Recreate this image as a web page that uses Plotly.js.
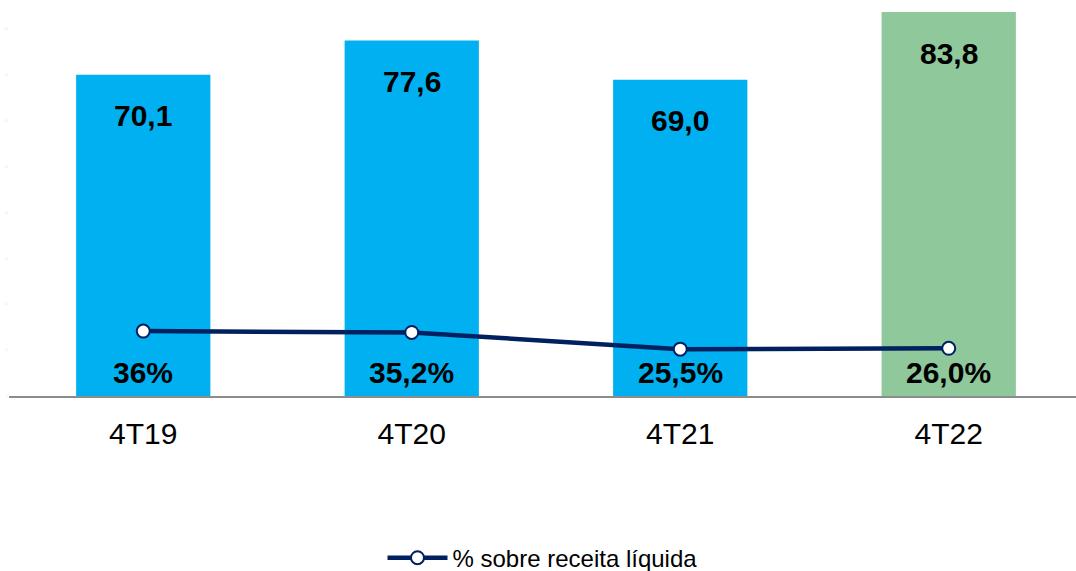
<!DOCTYPE html>
<html>
<head>
<meta charset="utf-8">
<script src="https://cdn.plot.ly/plotly-3.0.1.min.js"></script>
<style>html,body{margin:0;padding:0;background:#fff;}#chart{width:1076px;height:571px;}</style>
</head>
<body>
<div id="chart"></div>
<script>
const categories = ["4T19", "4T20", "4T21", "4T22"];
const barValues = [70.1, 77.6, 69.0, 83.8];
const barLabels = ["70,1", "77,6", "69,0", "83,8"];
const pctValues = [36.0, 35.2, 25.5, 26.0];
const pctLabels = ["36%", "35,2%", "25,5%", "26,0%"];
const barColors = ["#00B0F0", "#00B0F0", "#00B0F0", "#8FC89A"];
const seriesName = "% sobre receita líquida";
const yTicks = [0, 10, 20, 30, 40, 50, 60, 70, 80];

const font = "Liberation Sans, Arial, sans-serif";

const bars = {
  type: "bar",
  x: categories,
  y: barValues,
  marker: {color: barColors},
  width: 0.5,
  showlegend: false,
  hoverinfo: "skip"
};

const line = {
  type: "scatter",
  mode: "lines+markers",
  x: categories,
  y: pctValues,
  yaxis: "y2",
  name: seriesName,
  line: {color: "#002060", width: 4.5},
  marker: {size: 13, color: "#ffffff", line: {color: "#002060", width: 2}},
  hoverinfo: "skip"
};

const annotations = [];
categories.forEach((c, i) => {
  annotations.push({
    x: c, y: barValues[i], xref: "x", yref: "y",
    text: "<b>" + barLabels[i] + "</b>",
    showarrow: false, yanchor: "middle", yshift: -41,
    font: {family: font, size: 30, color: "#000"}
  });
  annotations.push({
    x: c, y: 0, xref: "x", yref: "y",
    text: "<b>" + pctLabels[i] + "</b>",
    showarrow: false, yanchor: "middle", yshift: 24,
    font: {family: font, size: 30, color: "#000"}
  });
});

const layout = {
  width: 1076, height: 571,
  margin: {l: 9, r: 0, t: 10, b: 175, autoexpand: false},
  paper_bgcolor: "#fff", plot_bgcolor: "#fff",
  font: {family: font, color: "#000"},
  xaxis: {
    type: "category",
    range: [-0.5, 3.474],
    showline: true, linecolor: "#8c8c8c", linewidth: 2,
    ticks: "", showgrid: false, zeroline: false,
    tickfont: {family: font, size: 30, color: "#000"},
    ticklabelstandoff: 10,
    automargin: false, fixedrange: true
  },
  yaxis: {
    range: [0, 84.24],
    showgrid: false, zeroline: false, showline: false,
    tickvals: yTicks, ticktext: yTicks.map(String),
    tickfont: {family: font, size: 3, color: "#ebebeb"},
    ticks: "", automargin: false
  },
  yaxis2: {
    overlaying: "y", side: "right",
    range: [-1.74, 222.7],
    showgrid: false, zeroline: false, showline: false,
    showticklabels: false, ticks: "", automargin: false
  },
  showlegend: true,
  legend: {
    orientation: "h", x: 0.5, xanchor: "center", xref: "paper",
    y: -0.42, yanchor: "middle",
    font: {family: font, size: 24, color: "#000"},
    itemwidth: 60
  },
  annotations: annotations
};

Plotly.newPlot("chart", [bars, line], layout, {displayModeBar: false, staticPlot: true});
</script>
</body>
</html>
